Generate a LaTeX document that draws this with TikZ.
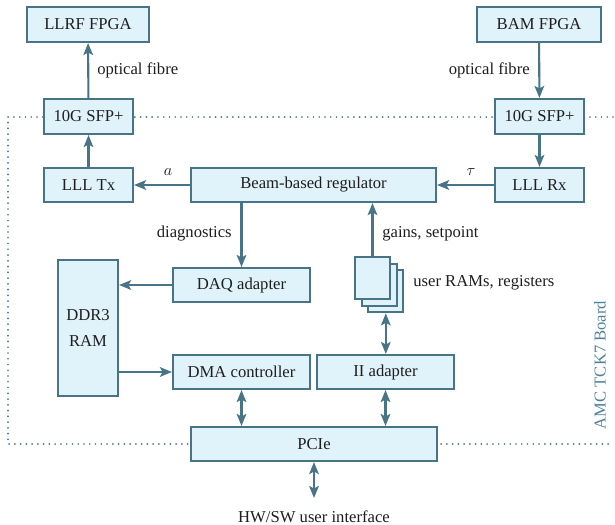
\documentclass[tikz,border=0pt]{standalone}
\usepackage{fontspec}
\setmainfont{Liberation Serif}
\usetikzlibrary{arrows.meta}
\definecolor{boxfill}{RGB}{224,242,250}
\definecolor{boxline}{RGB}{72,116,136}
\definecolor{boardtext}{RGB}{78,130,156}
\definecolor{txt}{RGB}{30,30,30}
\tikzset{
  tip/.tip={Stealth[length=7.5pt,width=6pt,inset=1.6pt]},
  blk/.style 2 args={draw=boxline, fill=boxfill, line width=1.3pt, inner sep=0pt,
    minimum width=#1*0.625pt, minimum height=#2*0.625pt, text=txt,
    font=\fontsize{10.4}{12.5}\selectfont, align=center},
  conn/.style={draw=boxline, line width=1.3pt, -tip},
  biconn/.style={draw=boxline, line width=1.3pt, tip-tip},
  lbl/.style={text=txt, font=\fontsize{10.4}{12.5}\selectfont, inner sep=0pt},
  board/.style={draw=boxline, line width=1.2pt, line cap=round,
    dash pattern=on 0pt off 3.6pt}
}
\begin{document}
\begin{tikzpicture}[x=0.625pt,y=-0.625pt]
\useasboundingbox (0,0) rectangle (615,524);

% board outline (dotted), drawn under the blocks
\coordinate (tl) at (8,117);
\coordinate (tr) at (613,117);
\coordinate (bl) at (8,444);
\coordinate (br) at (613,444);
\draw[board] (tr) -- (tl) -- (bl) -- (br);

% blocks
\node[blk={122}{35}] (llrf) at (88,24.5) {LLRF FPGA};
\node[blk={89}{35}] (sfpl) at (88.5,116.5) {10G SFP+};
\node[blk={89}{34}] (lltx) at (88.5,185) {LLL Tx};
\node[blk={245}{34}] (reg) at (313.5,185) {Beam-based regulator};
\node[blk={124}{35}] (bam) at (539,24.5) {BAM FPGA};
\node[blk={89}{35}] (sfpr) at (539.5,116.5) {10G SFP+};
\node[blk={89}{34}] (llrx) at (539.5,185) {LLL Rx};
\node[blk={137}{34}] (daq) at (241.5,285) {DAQ adapter};
\node[blk={60}{136}] (ddr) at (88,328) {DDR3\\[4pt]RAM};
\node[blk={137}{34}] (dma) at (241.5,372) {DMA controller};
\node[blk={137}{34}] (ii) at (385.5,372) {II adapter};
\node[blk={246}{34}] (pcie) at (314,444) {PCIe};

% stacked user RAMs / registers
\node[blk={35}{42}] (ram3) at (385.8,291.3) {};
\node[blk={35}{42}] (ram2) at (379.2,284.7) {};
\node[blk={35}{42}] (ram1) at (372.5,278) {};

% labels
\node[lbl, anchor=west] (ofl) at (97,70) {optical fibre};
\node[lbl, anchor=east] (ofr) at (530,70) {optical fibre};
\node[lbl] (la) at (168,172) {$a$};
\node[lbl] (lt) at (471,172) {$\tau$};
\node[lbl, anchor=east] (diag) at (232,234) {diagnostics};
\node[lbl, anchor=west] (gains) at (382,234) {gains, setpoint};
\node[lbl, anchor=west] (urams) at (413,283) {user RAMs, registers};
\node[lbl, text=boardtext, rotate=90] (brd) at (600,365) {AMC TCK7 Board};
\node[lbl] (hw) at (314,517) {HW/SW user interface};
\coordinate (hwtop) at (314,498);

% connectors
\draw[conn] (sfpl) -- (llrf);
\draw[conn] (lltx) -- (sfpl);
\draw[conn] (reg.west) -- (lltx.east);
\draw[conn] (bam) -- (sfpr);
\draw[conn] (sfpr) -- (llrx);
\draw[conn] (llrx.west) -- (reg.east);
\draw[conn] (reg.south -| daq.north) -- (daq.north);
\draw[conn] (daq.west) -- (ddr.east |- daq.west);
\draw[conn] (ddr.east |- dma.west) -- (dma.west);
\draw[biconn] (dma.south) -- (dma.south |- pcie.north);
\draw[biconn] (ii.south) -- (ii.south |- pcie.north);
\draw[biconn] (ram3.south) -- (ram3.south |- ii.north);
\draw[conn] (ram1.north) -- (ram1.north |- reg.south);
\draw[biconn] (pcie.south) -- (hwtop);
\end{tikzpicture}
\end{document}
